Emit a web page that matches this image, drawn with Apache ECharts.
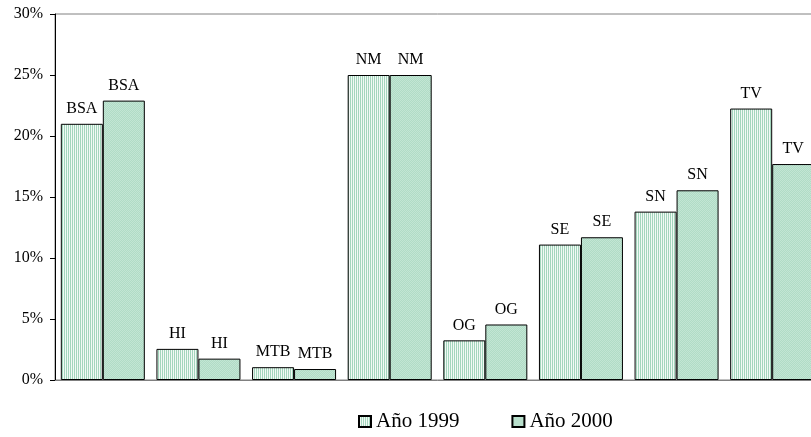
<!DOCTYPE html>
<html><head><meta charset="utf-8">
<script src="https://cdn.jsdelivr.net/npm/echarts@6/dist/echarts.min.js"></script>
<style>html,body{margin:0;padding:0;background:#fff;overflow:hidden;width:811px;height:437px}#c{width:820px;height:437px}</style>
</head><body><div id="c"></div>
<script>
var categories = ['BSA','HI','MTB','NM','OG','SE','SN','TV'];
var values1999 = [21.0, 2.55, 1.05, 25.0, 3.25, 11.1, 13.8, 22.25];
var values2000 = [22.9, 1.75, 0.9, 25.0, 4.55, 11.7, 15.55, 17.7];
var seriesNames = ['Año 1999', 'Año 2000'];
var yTicks = [0, 5, 10, 15, 20, 25, 30];

function stripes() {
  var c = document.createElement('canvas');
  c.width = 2; c.height = 4;
  var g = c.getContext('2d');
  g.fillStyle = '#a3d6bd'; g.fillRect(0,0,1,4);
  g.fillStyle = '#f2f9f5'; g.fillRect(1,0,1,4);
  return c;
}
function dots() {
  var c = document.createElement('canvas');
  c.width = 2; c.height = 2;
  var g = c.getContext('2d');
  g.fillStyle = '#b0dcc6'; g.fillRect(0,0,2,2);
  g.fillStyle = '#c3e5d4'; g.fillRect(0,0,1,1); g.fillRect(1,1,1,1);
  return c;
}
var font = 'Liberation Serif';
var chart = echarts.init(document.getElementById('c'));
var lbl = {show:true, position:'top', distance:7, formatter:'{b}', color:'#000', fontFamily:font, fontSize:16};
chart.setOption({
  animation:false,
  grid:{left:55, top:14, bottom:57, right:0, show:true, borderColor:'#808080', borderWidth:1},
  legend:{
    top:406, left:353, itemWidth:12, itemHeight:11, itemGap:52, icon:'rect',
    textStyle:{fontFamily:font, fontSize:21, color:'#000'},
    data:seriesNames
  },
  xAxis:{type:'category', data:categories,
    axisLine:{lineStyle:{color:'#808080'}}, axisTick:{show:false}, axisLabel:{show:false}},
  yAxis:{type:'value', min:yTicks[0], max:yTicks[yTicks.length-1], interval:5,
    axisLine:{show:true, lineStyle:{color:'#000'}},
    axisTick:{show:true, length:5, lineStyle:{color:'#000'}},
    splitLine:{show:false},
    axisLabel:{formatter:'{value}%', fontFamily:font, fontSize:16, color:'#000', margin:12}},
  series:[
    {name:seriesNames[0], type:'bar', data:values1999, barWidth:42, barGap:'0%',
     itemStyle:{color:{image:stripes(), repeat:'repeat'}, borderColor:'#000', borderWidth:1}, label:lbl},
    {name:seriesNames[1], type:'bar', data:values2000, barWidth:42, barGap:'0%',
     itemStyle:{color:{image:dots(), repeat:'repeat'}, borderColor:'#000', borderWidth:1}, label:lbl}
  ]
});
</script></body></html>
